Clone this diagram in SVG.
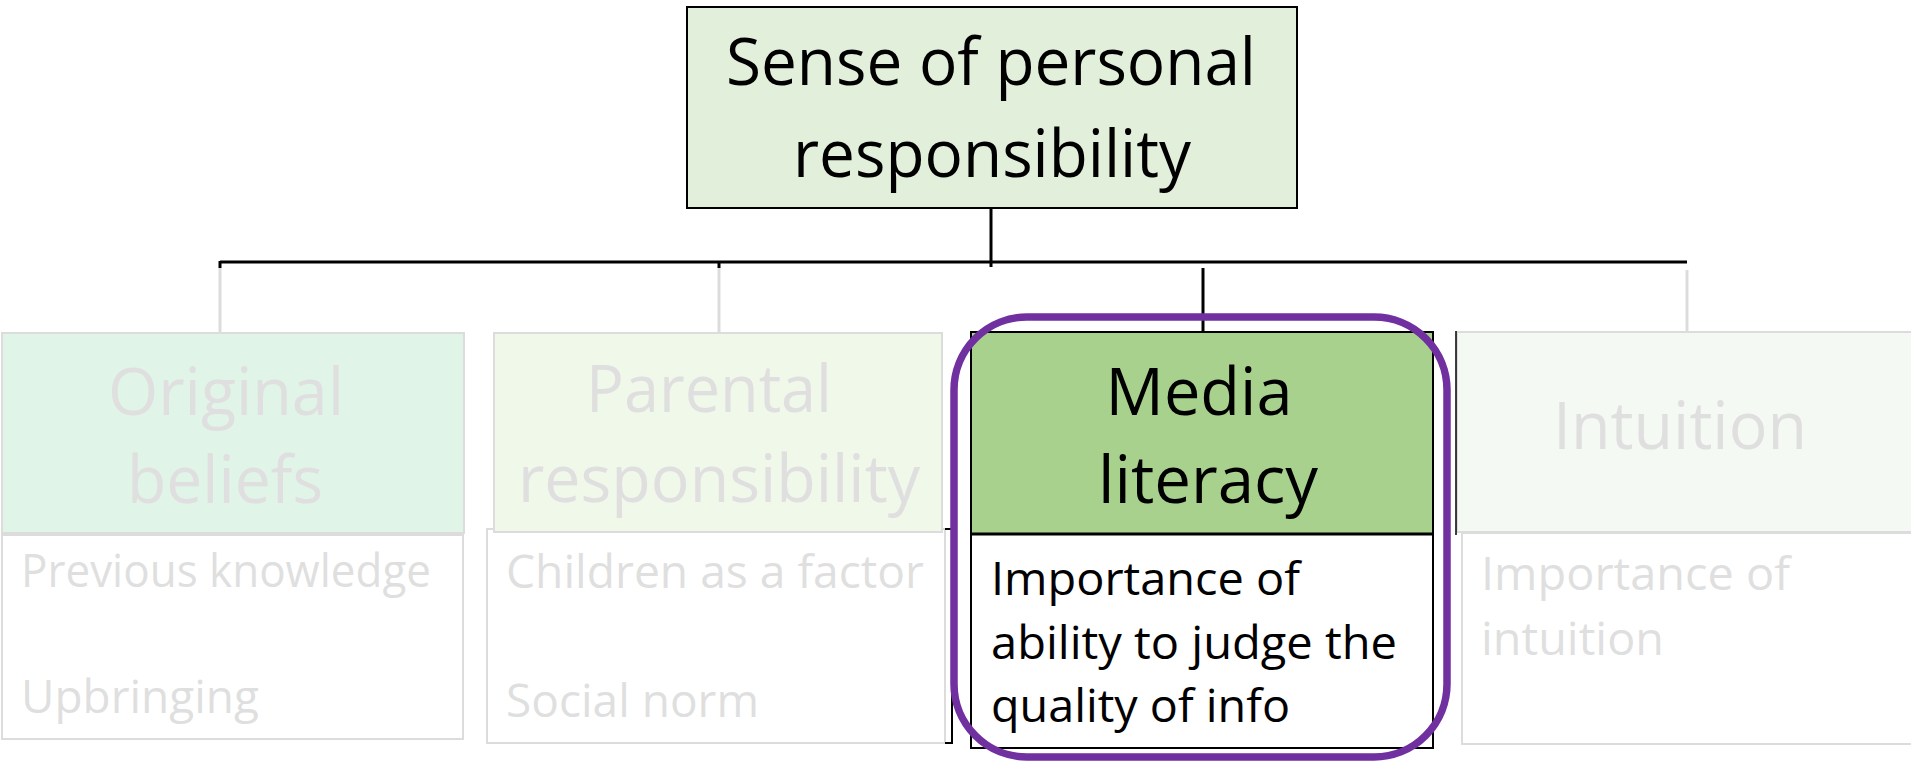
<svg xmlns="http://www.w3.org/2000/svg" width="1911" height="764" viewBox="0 0 1911 764">
<style>
text{font-family:"Open Sans","Noto Sans","Liberation Sans",sans-serif;}
.big{font-size:66px;}
.small{font-size:46px;}
.dark{fill:#000000;}
.faint{fill:#E0DFE0;}
.gbox{stroke:#DCDCDC;stroke-width:2;}
.conn{stroke:#000000;stroke-width:3;fill:none;}
.gconn{stroke:#DCDCDC;stroke-width:3;fill:none;}
</style>
<rect x="0" y="0" width="1911" height="764" fill="#FFFFFF"/>
<g id="connectors">
<line class="conn" x1="220" y1="262" x2="1687" y2="262"/>
<line class="conn" x1="991" y1="209" x2="991" y2="267"/>
<line class="conn" x1="220" y1="261" x2="220" y2="268"/>
<line class="conn" x1="719" y1="261" x2="719" y2="268"/>
<line class="gconn" x1="220" y1="268" x2="220" y2="332"/>
<line class="gconn" x1="719" y1="268" x2="719" y2="332"/>
<line class="gconn" x1="1687" y1="270" x2="1687" y2="333"/>
<line class="conn" x1="1203" y1="268" x2="1203" y2="332"/>
</g>
<g id="node-top">
<rect x="687" y="7" width="610" height="201" fill="#E2EFDA" stroke="#000000" stroke-width="2"/>
<text class="big dark" x="991" y="85" text-anchor="middle" textLength="530" lengthAdjust="spacingAndGlyphs">Sense of personal</text>
<text class="big dark" x="992" y="177" text-anchor="middle" textLength="398" lengthAdjust="spacingAndGlyphs">responsibility</text>
</g>
<g id="node-original">
<rect class="gbox" x="2" y="333" width="462" height="200" fill="#E0F4E8"/>
<rect class="gbox" x="2" y="535" width="461" height="204" fill="#FFFFFF"/>
<text class="big faint" x="226" y="415" text-anchor="middle" textLength="236" lengthAdjust="spacingAndGlyphs">Original</text>
<text class="big faint" x="225" y="503" text-anchor="middle" textLength="196" lengthAdjust="spacingAndGlyphs">beliefs</text>
<text class="small faint" x="21" y="587" textLength="410" lengthAdjust="spacingAndGlyphs">Previous knowledge</text>
<text class="small faint" x="21" y="713" textLength="238" lengthAdjust="spacingAndGlyphs">Upbringing</text>
</g>
<g id="node-parental">
<rect class="gbox" x="487" y="529" width="458" height="214" fill="#FFFFFF"/>
<path d="M945 529 H952 V743 H945" fill="none" stroke="#000000" stroke-width="2"/>
<rect class="gbox" x="494" y="333" width="448" height="199" fill="#F0F8E9"/>
<text class="big faint" x="709" y="412" text-anchor="middle" textLength="246" lengthAdjust="spacingAndGlyphs">Parental</text>
<text class="big faint" x="719" y="502" text-anchor="middle" textLength="402" lengthAdjust="spacingAndGlyphs">responsibility</text>
<text class="small faint" x="506" y="588" textLength="418" lengthAdjust="spacingAndGlyphs">Children as a factor</text>
<text class="small faint" x="506" y="717" textLength="253" lengthAdjust="spacingAndGlyphs">Social norm</text>
</g>
<g id="node-media">
<rect x="971" y="332" width="462" height="202" fill="#A9D18E" stroke="#000000" stroke-width="2"/>
<rect x="971" y="534" width="462" height="214" fill="#FFFFFF" stroke="#000000" stroke-width="2"/>
<line x1="971" y1="534" x2="1433" y2="534" stroke="#000000" stroke-width="3"/>
<text class="big dark" x="1199" y="415" text-anchor="middle" textLength="187" lengthAdjust="spacingAndGlyphs">Media</text>
<text class="big dark" x="1208" y="503" text-anchor="middle" textLength="220" lengthAdjust="spacingAndGlyphs">literacy</text>
<text class="small dark" x="991" y="595" textLength="309" lengthAdjust="spacingAndGlyphs">Importance of</text>
<text class="small dark" x="991" y="659" textLength="406" lengthAdjust="spacingAndGlyphs">ability to judge the</text>
<text class="small dark" x="991" y="722" textLength="299" lengthAdjust="spacingAndGlyphs">quality of info</text>
</g>
<g id="node-intuition">
<rect class="gbox" x="1462" y="533" width="470" height="211" fill="#FFFFFF"/>
<rect class="gbox" x="1457" y="332" width="475" height="200" fill="#F5F9F3"/>
<line x1="1456" y1="331" x2="1456" y2="535" stroke="#000000" stroke-width="1.5"/>
<text class="big faint" x="1680" y="449" text-anchor="middle" textLength="254" lengthAdjust="spacingAndGlyphs">Intuition</text>
<text class="small faint" x="1481" y="590" textLength="309" lengthAdjust="spacingAndGlyphs">Importance of</text>
<text class="small faint" x="1481" y="655" textLength="183" lengthAdjust="spacingAndGlyphs">intuition</text>
</g>
<g id="highlight">
<rect x="954" y="317" width="493" height="440" rx="73" ry="73" fill="none" stroke="#7030A0" stroke-width="7.5"/>
</g>
</svg>
